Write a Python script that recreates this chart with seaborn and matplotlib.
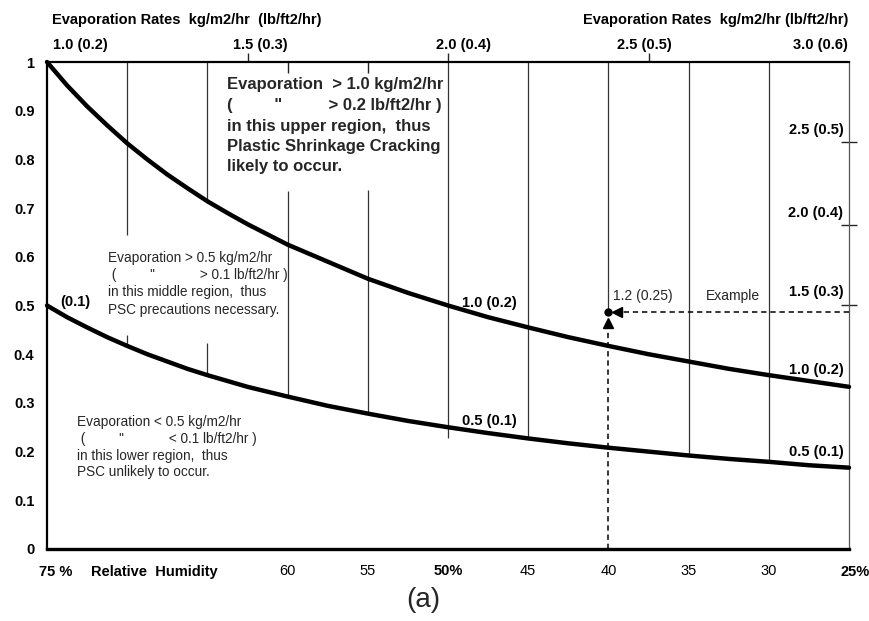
import matplotlib
matplotlib.use("Agg")
import matplotlib.pyplot as plt
import seaborn as sns
import pandas as pd

# ---------------- data ----------------
rh = [75, 73.75, 72.5, 71.25, 70, 68.75, 67.5, 66.25, 65, 63.75, 62.5, 60, 57.5, 55,
      52.5, 50, 47.5, 45, 42.5, 40, 37.5, 35, 32.5, 30, 27.5, 25]
evap_upper = [1.0, 0.952, 0.909, 0.87, 0.833, 0.80, 0.769, 0.741, 0.714, 0.69, 0.667,
              0.625, 0.59, 0.555, 0.526, 0.50, 0.476, 0.455, 0.435, 0.417, 0.40, 0.385,
              0.37, 0.357, 0.345, 0.333]
evap_lower = [0.50, 0.476, 0.455, 0.435, 0.417, 0.40, 0.385, 0.37, 0.357, 0.345, 0.333,
              0.313, 0.294, 0.278, 0.263, 0.25, 0.238, 0.227, 0.217, 0.208, 0.20, 0.192,
              0.185, 0.179, 0.172, 0.167]

x_ticks = [70, 65, 60, 55, 50, 45, 40, 35, 30, 25]
x_tick_labels = ["", "", "60", "55", "50%", "45", "40", "35", "30", ""]
y_ticks = [0, 0.1, 0.2, 0.3, 0.4, 0.5, 0.6, 0.7, 0.8, 0.9, 1.0]
y_tick_labels = ["0", "0.1", "0.2", "0.3", "0.4", "0.5", "0.6", "0.7", "0.8", "0.9", "1"]

top_rates = [75, 62.5, 50, 37.5, 25]
top_labels = ["1.0 (0.2)", "1.5 (0.3)", "2.0 (0.4)", "2.5 (0.5)", "3.0 (0.6)"]
top_label_x = [72.94, 61.72, 49.06, 37.78, 26.81]

right_tick_y = [0.501, 0.665, 0.835]
right_labels = ["1.5 (0.3)", "2.0 (0.4)", "2.5 (0.5)"]

grid_rh = [70, 70, 65, 65, 60, 55, 50, 45, 40, 35, 30]
grid_lo = [0.645, 0.415, 0.71, 0.357, 0.3125, 0.278, 0.228, 0.227, 0.486, 0.192, 0.178]
grid_hi = [1.0, 0.44, 1.0, 0.423, 0.735, 0.737, 1.0, 1.0, 1.0, 1.0, 1.0]

example_rh = 40
example_y = 0.486

df = pd.DataFrame({
    "rh": rh * 2,
    "evap": evap_upper + evap_lower,
    "curve": ["1.0"] * len(rh) + ["0.5"] * len(rh),
})

# ---------------- style ----------------
sns.set_style("white")
plt.rcParams["font.family"] = ["Liberation Sans", "DejaVu Sans"]

fig = plt.figure(figsize=(8.7, 6.21), dpi=100)
ax = fig.add_axes([47 / 870, 1 - 549 / 621, (849 - 47) / 870, (549 - 62) / 621])

# grid (vertical RH lines)
ax.vlines(grid_rh, grid_lo, grid_hi, colors="#333333", linewidth=0.9, zorder=1)
ax.vlines([60, 55], 0.978, 1.0, colors="#222222", linewidth=1.0, zorder=1)

# curves
sns.lineplot(data=df, x="rh", y="evap", hue="curve", palette=["black", "black"],
             linewidth=3.2, legend=False, ax=ax, zorder=3, clip_on=False,
             estimator=None, sort=True)
for ln in ax.lines:
    ln.set_solid_joinstyle("round")
    ln.set_solid_capstyle("round")

# example
ax.plot([25, example_rh - 0.55], [example_y, example_y], ls=(0, (3.5, 2.5)), color="black",
        lw=1.1, zorder=4, clip_on=False)
ax.plot([example_rh - 0.55], [example_y], marker="<", color="black", ms=7, zorder=5)
ax.plot([example_rh, example_rh], [0, example_y - 0.02], ls=(0, (3.5, 2.5)), color="black",
        lw=1.1, zorder=4)
ax.plot([example_rh], [example_y - 0.022], marker="^", color="black", ms=7, zorder=5)
ax.plot([example_rh], [example_y], marker="o", color="black", ms=5, zorder=6)

ax.set_xlim(75, 25)
ax.set_ylim(0, 1)
ax.set_xlabel("")
ax.set_ylabel("")

# spines
for s in ["left", "top"]:
    ax.spines[s].set_color("black")
    ax.spines[s].set_linewidth(1.6)
ax.spines["bottom"].set_color("black")
ax.spines["bottom"].set_linewidth(2.4)
ax.spines["right"].set_color("#555555")
ax.spines["right"].set_linewidth(0.9)

ax.set_yticks(y_ticks)
ax.set_yticklabels(y_tick_labels, fontweight="bold", fontsize=10.5)
ax.set_xticks(x_ticks)
ax.set_xticklabels(x_tick_labels, fontsize=10.5)
for lab in ax.get_xticklabels():
    if lab.get_text() == "50%":
        lab.set_fontweight("bold")
ax.tick_params(axis="y", direction="inout", length=14, width=1.0, pad=2, colors="black")
ax.tick_params(axis="x", direction="inout", length=16, width=1.0, pad=3, colors="black")

# top ticks
sec = ax.secondary_xaxis("top")
sec.set_xticks(top_rates[1:4])
sec.set_xticklabels([])
sec.tick_params(direction="out", length=6.5, width=1.0)
sec.spines["top"].set_visible(False)

# right ticks
secy = ax.secondary_yaxis("right")
secy.set_yticks(right_tick_y)
secy.set_yticklabels([])
secy.tick_params(direction="inout", length=12, width=1.0)
secy.spines["right"].set_visible(False)

xt = ax.get_xaxis_transform()
bold = dict(fontweight="bold", fontsize=10.5, color="black")

# top labels
for xv, lbl in zip(top_label_x, top_labels):
    ax.text(xv, 1.035, lbl, transform=xt, ha="center", va="center", **bold)
ax.text(74.69, 1.086, "Evaporation Rates  kg/m2/hr  (lb/ft2/hr)", transform=xt,
        ha="left", va="center", **bold)
ax.text(25.06, 1.086, "Evaporation Rates  kg/m2/hr (lb/ft2/hr)", transform=xt,
        ha="right", va="center", **bold)

# bottom labels
ax.text(74.44, -0.047, "75 %", transform=xt, ha="center", va="center", **bold)
ax.text(68.33, -0.047, "Relative  Humidity", transform=xt, ha="center", va="center", **bold)
ax.text(25.5, -0.047, "25%", transform=xt, ha="left", va="center", **bold)
ax.text(51.56, -0.105, "(a)", transform=xt, ha="center", va="center", fontsize=20)

# right labels
for yv, lbl in zip(right_tick_y, right_labels):
    ax.annotate(lbl, xy=(25, yv), xytext=(-4, 4), textcoords="offset points",
                ha="right", va="bottom", **bold)
ax.annotate("1.0 (0.2)", xy=(25, evap_upper[-1]), xytext=(-4, 7), textcoords="offset points",
            ha="right", va="bottom", **bold)
ax.annotate("0.5 (0.1)", xy=(25, evap_lower[-1]), xytext=(-4, 6), textcoords="offset points",
            ha="right", va="bottom", **bold)

# curve labels
ax.text(49.1, 0.505, "1.0 (0.2)", ha="left", va="center", **bold)
ax.text(49.1, 0.263, "0.5 (0.1)", ha="left", va="center", **bold)
ax.text(74.2, 0.507, "(0.1)", ha="left", va="center", **bold)
ax.text(39.72, 0.519, "1.2 (0.25)", ha="left", va="center", fontsize=10)
ax.text(33.9, 0.519, "Example", ha="left", va="center", fontsize=10)

# region annotations
upper_lines = ["Evaporation  > 1.0 kg/m2/hr",
               "(         \"          > 0.2 lb/ft2/hr )",
               "in this upper region,  thus",
               "Plastic Shrinkage Cracking",
               "likely to occur."]
for i, t in enumerate(upper_lines):
    ax.text(63.78, (549 - (85 + 20.5 * i)) / 487, t, ha="left", va="center",
            fontweight="bold", fontsize=12)

middle_lines = ["Evaporation > 0.5 kg/m2/hr",
                " (         \"            > 0.1 lb/ft2/hr )",
                "in this middle region,  thus",
                "PSC precautions necessary."]
for i, t in enumerate(middle_lines):
    ax.text(71.2, (549 - (258 + 17.2 * i)) / 487, t, ha="left", va="center", fontsize=9.8)

lower_lines = ["Evaporation < 0.5 kg/m2/hr",
               " (         \"            < 0.1 lb/ft2/hr )",
               "in this lower region,  thus",
               "PSC unlikely to occur."]
for i, t in enumerate(lower_lines):
    ax.text(73.13, (549 - (422 + 16.8 * i)) / 487, t, ha="left", va="center", fontsize=9.8)

fig.savefig("out.png", dpi=100)
